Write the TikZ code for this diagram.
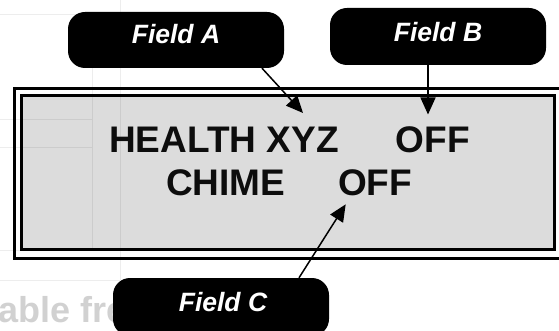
\documentclass[tikz,border=0pt]{standalone}
\usepackage{fontspec}
\setmainfont{Liberation Sans}
\usetikzlibrary{arrows.meta}
\tikzset{
  lcdtext/.style={font=\bfseries\fontsize{37}{40}\selectfont, text=black!95, inner sep=0pt, anchor=base west},
  callout/.style={fill=black, rounded corners=17pt, inner sep=0pt},
  calltext/.style={font=\bfseries\itshape\fontsize{26.5}{28}\selectfont, text=white, inner sep=0pt, anchor=base},
  arr/.style={line width=1.5pt, -{Triangle[length=17pt,width=15pt]}},
  frame/.style={line width=3pt, draw=black},
  ghost/.style={draw=black, opacity=0.07, line width=1pt}
}
\begin{document}
\begin{tikzpicture}[x=1pt,y=-1pt]
\useasboundingbox (0,0) rectangle (559,331);
% faint background remnants
\node[font=\bfseries\fontsize{36}{40}\selectfont, text=black!18, inner sep=0pt, anchor=base west] (ghosttext) at (-2,322) {able free or};
% LCD frame
\draw[frame, fill=white] (14.5,88.5) rectangle (562,258.7);
\draw[frame, fill={rgb,255:red,220;green,220;blue,220}] (21.3,95.5) rectangle (554.5,249.3);
% faint lines
\draw[ghost] (0,15) -- (92,15);
\draw[ghost] (92,15) -- (92,250);
\draw[ghost] (120,0) -- (120,280);
\draw[ghost] (0,120) -- (92,120);
\draw[ghost] (0,148) -- (92,148);
\draw[ghost] (0,250) -- (120,250);
\draw[ghost] (0,280) -- (120,280);
% LCD text
\node[lcdtext] (health) at (109,152.5) {HEALTH XYZ};
\node[lcdtext] (off1) at (395.5,152.5) {OFF};
\node[lcdtext] (chime) at (166,195) {CHIME};
\node[lcdtext] (off2) at (338,195) {OFF};
% callouts
\node[callout, minimum width=216pt, minimum height=56pt] (fa) at (176,40) {};
\node[calltext] (faT) at (176,44) {Field A};
\node[callout, minimum width=216pt, minimum height=57pt] (fb) at (438,36.5) {};
\node[calltext] (fbT) at (438,41.7) {Field B};
\node[callout, minimum width=216pt, minimum height=58pt] (fc) at (221,307) {};
\node[calltext] (fcT) at (223,311.7) {Field C};
% arrow tips
\coordinate (tipA) at (303,113);
\coordinate (tipB) at (428,114.5);
\coordinate (tipC) at (345.7,204.3);
\draw[arr] ([xshift=86pt]fa.south) -- (tipA);
\draw[arr] ([xshift=-10pt]fb.south) -- (tipB);
\draw[arr] ([xshift=78pt]fc.north) -- (tipC);
\end{tikzpicture}
\end{document}
